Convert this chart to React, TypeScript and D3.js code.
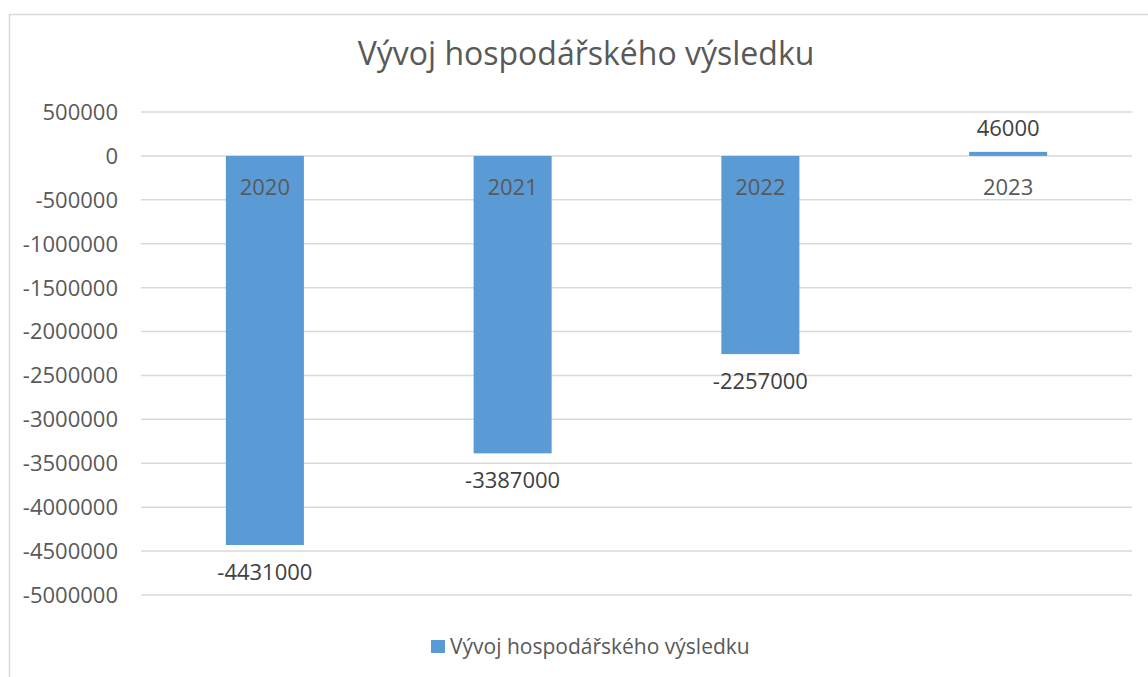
import React from "react";
import * as d3 from "d3";

const title = "Vývoj hospodářského výsledku";
const seriesName = "Vývoj hospodářského výsledku";
const categories = ["2020", "2021", "2022", "2023"];
const values = [-4431000, -3387000, -2257000, 46000];
const yTicks = [500000, 0, -500000, -1000000, -1500000, -2000000, -2500000, -3000000, -3500000, -4000000, -4500000, -5000000];

const W = 1148;
const H = 677;
const FONT = "'Open Sans', 'Noto Sans', sans-serif";
const BAR = "#5B9BD5";
const GRID = "#D9D9D9";
const TXT = "#595959";
const LBL = "#404040";

export default function App() {
  const x = d3.scaleBand<string>().domain(categories).range([141, 1132]).paddingInner(0.685).paddingOuter(0.3425);
  const y = d3.scaleLinear().domain([-5000000, 500000]).range([595, 112]);
  const y0 = y(0);

  return (
    <svg width={W} height={H} style={{ position: "absolute", left: 0, top: 0 }} fontFamily={FONT}>
      <rect x={0} y={0} width={W} height={H} fill="#fff" />
      <rect x={9.5} y={14.5} width={1170} height={700} fill="#fff" stroke={GRID} strokeWidth={1.5} />
      <text x={586} y={65} textAnchor="middle" fontSize={32} fill={TXT}>{title}</text>
      {yTicks.map((t) => (
        <g key={t}>
          <line x1={141} x2={1132} y1={y(t)} y2={y(t)} stroke={GRID} strokeWidth={1.5} />
          <text x={118} y={y(t)} dy="0.36em" textAnchor="end" fontSize={22} fill={TXT}>{t}</text>
        </g>
      ))}
      {categories.map((c, i) => {
        const v = values[i];
        const bx = x(c)!;
        const top = Math.min(y(v), y0);
        const h = Math.abs(y(v) - y0);
        const cx = bx + x.bandwidth() / 2;
        return (
          <g key={c}>
            <rect x={bx} y={top} width={x.bandwidth()} height={h} fill={BAR} />
            <text x={cx} y={y0 + 39} textAnchor="middle" fontSize={22} fill={TXT}>{c}</text>
            <text x={cx} y={v < 0 ? y(v) + 35 : y(v) - 16} textAnchor="middle" fontSize={22} fill={LBL}>{v}</text>
          </g>
        );
      })}
      <rect x={431} y={640} width={14} height={13} fill={BAR} />
      <text x={450} y={654} fontSize={21} fill={TXT}>{seriesName}</text>
    </svg>
  );
}
